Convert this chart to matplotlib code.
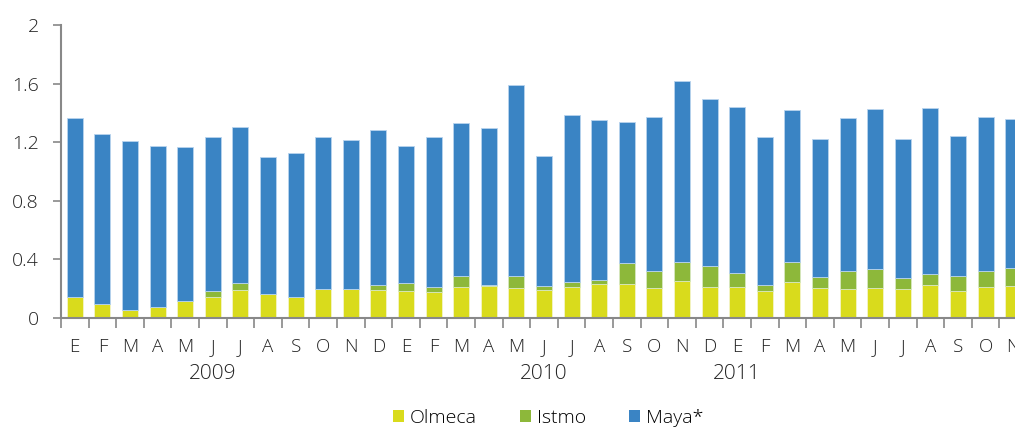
import matplotlib
matplotlib.use("Agg")
import matplotlib.pyplot as plt
from matplotlib.patches import Patch
import numpy as np

months = ["E","F","M","A","M","J","J","A","S","O","N","D",
          "E","F","M","A","M","J","J","A","S","O","N","D",
          "E","F","M","A","M","J","J","A","S","O","N"]
years = ["2009", "2010", "2011"]
year_pos = [5, 17, 24]

olmeca = [0.146, 0.098, 0.053, 0.075, 0.119, 0.144, 0.189, 0.167, 0.144, 0.196, 0.198, 0.192,
          0.183, 0.176, 0.210, 0.219, 0.208, 0.194, 0.210, 0.233, 0.231, 0.203, 0.251, 0.210,
          0.212, 0.181, 0.246, 0.203, 0.196, 0.203, 0.196, 0.224, 0.183, 0.210, 0.217]
istmo = [0.0, 0.0, 0.0, 0.0, 0.0, 0.039, 0.050, 0.0, 0.0, 0.005, 0.0, 0.032,
         0.059, 0.036, 0.080, 0.009, 0.082, 0.023, 0.034, 0.025, 0.143, 0.121, 0.128, 0.144,
         0.096, 0.043, 0.135, 0.080, 0.123, 0.130, 0.078, 0.075, 0.107, 0.109, 0.125]
maya = [1.218, 1.156, 1.158, 1.099, 1.051, 1.051, 1.065, 0.932, 0.980, 1.035, 1.020, 1.062,
        0.932, 1.022, 1.040, 1.072, 1.300, 0.891, 1.140, 1.092, 0.962, 1.051, 1.238, 1.144,
        1.133, 1.010, 1.040, 0.937, 1.047, 1.092, 0.946, 1.137, 0.951, 1.054, 1.017]
series_names = ["Olmeca", "Istmo", "Maya*"]
colors = ["#d9db1c", "#8db83a", "#3a84c4"]

plt.rcParams['font.family'] = ['Open Sans', 'DejaVu Sans']
plt.rcParams['font.weight'] = 'light'

fig = plt.figure(figsize=(10.15, 4.28), dpi=100)
ax = fig.add_axes([61/1015, 110/428, 966/1015, 293/428])

x = np.arange(len(months))
w = 0.58
ol = np.array(olmeca); ist = np.array(istmo); my = np.array(maya)
ax.bar(x, ol, width=w, color=colors[0], edgecolor="#f4f4c8", linewidth=0.6)
ax.bar(x, ist, width=w, bottom=ol, color=colors[1], edgecolor="#d8e8c0", linewidth=0.6)
ax.bar(x, my, width=w, bottom=ol + ist, color=colors[2], edgecolor="#b8d4ee", linewidth=0.6)

ax.set_xlim(-0.5, len(months) - 0.5)
ax.set_ylim(0, 2)
ax.set_yticks([0, 0.4, 0.8, 1.2, 1.6, 2])
ax.set_yticklabels(["0", "0.4", "0.8", "1.2", "1.6", "2"], fontsize=14, color="#222222")
ax.tick_params(axis='y', length=6, width=1.2, color="#888888", pad=10)

ax.set_xticks(x)
ax.set_xticklabels(months, fontsize=13.5, color="#222222")
ax.tick_params(axis='x', which='major', length=0, pad=14.5)
ax.set_xticks(np.arange(-0.5, len(months), 1), minor=True)
ax.tick_params(axis='x', which='minor', length=7, width=1.2, color="#888888")

for s in ["top", "right"]:
    ax.spines[s].set_visible(False)
for s in ["left", "bottom"]:
    ax.spines[s].set_color("#888888")
    ax.spines[s].set_linewidth(1.5)

for yl, xp in zip(years, year_pos):
    ax.text(xp, -0.19, yl, transform=ax.get_xaxis_transform(), ha="center",
            va="center", fontsize=15, color="#222222")

handles = [Patch(facecolor=c, edgecolor="none") for c in colors]
fig.legend(handles, series_names, loc="center", bbox_to_anchor=(548/1015, 1 - 418/428),
           ncol=3, frameon=False, fontsize=14, handlelength=0.57, handleheight=0.57,
           handletextpad=0.3, columnspacing=2.2)

fig.savefig("out.png", dpi=100)
